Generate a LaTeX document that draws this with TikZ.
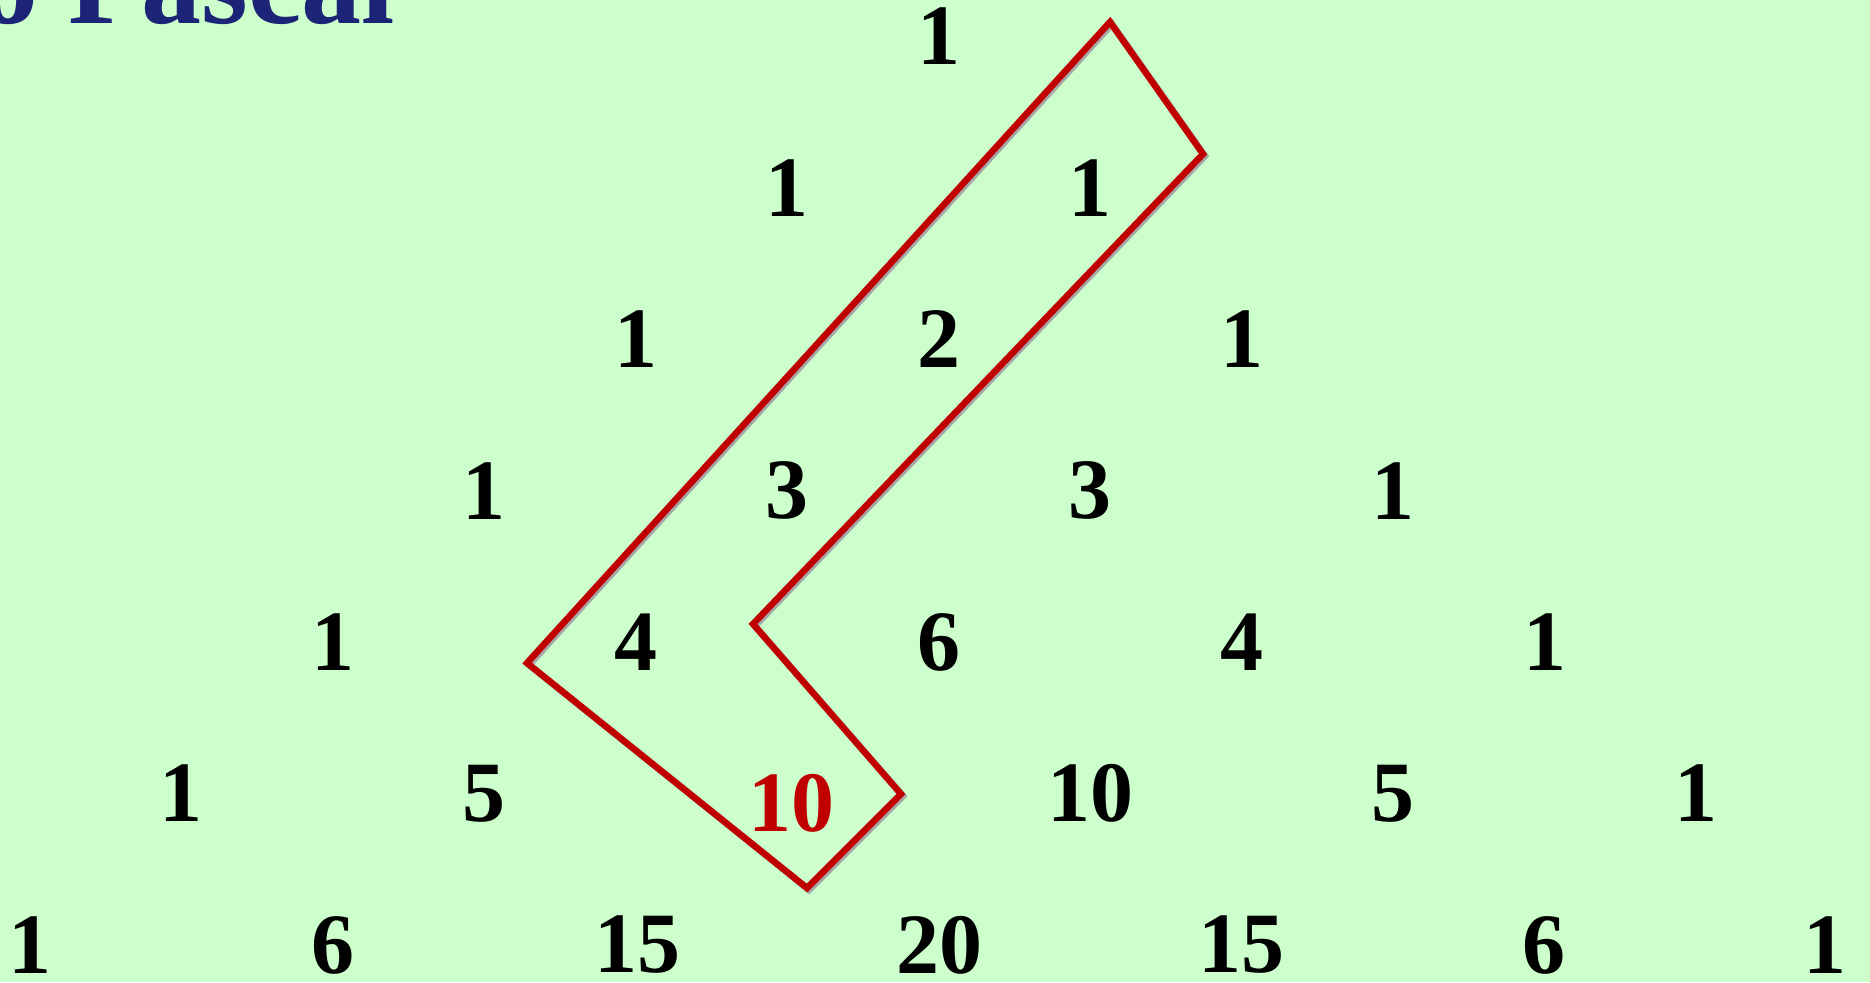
\documentclass[tikz,border=0pt]{standalone}
\usepackage{fontspec}
\setmainfont{Liberation Serif}
\definecolor{bg}{RGB}{204,255,204}
\definecolor{pred}{RGB}{192,0,0}
\definecolor{navy}{RGB}{28,36,120}
\begin{document}
\begin{tikzpicture}[x=1pt,y=-1pt,
  num/.style={font=\fontsize{86}{86}\selectfont\bfseries, inner sep=0pt, text=black},
  rednum/.style={num, text=pred},
  loop/.style={draw=pred, line width=6.5pt, line join=miter,
    preaction={draw=black!35, line width=6.5pt, transform canvas={shift={(2pt,-2pt)}}}}]
\fill[bg] (0,0) rectangle (1870,982);
\useasboundingbox (0,0) rectangle (1870,982);
\clip (0,0) rectangle (1870,982);
% title fragment
\node[anchor=base west, font=\fontsize{120}{120}\selectfont\bfseries, text=navy, inner sep=0pt] (title) at (-22,24) {o Pascal};
% rows 0..5
\node[num] (n00) at (938.6,36.5) {1};
\node[num] (n10) at (787.1,187.9) {1};
\node[num] (n11) at (1090.1,187.9) {1};
\node[num] (n20) at (635.6,339.3) {1};
\node[num] (n21) at (938.6,339.3) {2};
\node[num] (n22) at (1241.6,339.3) {1};
\node[num] (n30) at (484.1,490.7) {1};
\node[num] (n31) at (787.1,490.7) {3};
\node[num] (n32) at (1090.1,490.7) {3};
\node[num] (n33) at (1393.1,490.7) {1};
\node[num] (n40) at (332.6,642.1) {1};
\node[num] (n41) at (635.6,642.1) {4};
\node[num] (n42) at (938.6,642.1) {6};
\node[num] (n43) at (1241.6,642.1) {4};
\node[num] (n44) at (1544.6,642.1) {1};
\node[num] (n50) at (181.1,793.5) {1};
\node[num] (n51) at (484.1,793.5) {5};
\node[rednum] (n52) at (791,803.5) {10};
\node[num] (n53) at (1090.1,793.5) {10};
\node[num] (n54) at (1393.1,793.5) {5};
\node[num] (n55) at (1696.1,793.5) {1};
% row 6
\node[num] (n60) at (30,945) {1};
\node[num] (n61) at (333,945) {6};
\node[num] (n62) at (637,945) {15};
\node[num] (n63) at (939,945) {20};
\node[num] (n64) at (1241,945) {15};
\node[num] (n65) at (1544,945) {6};
\node[num] (n66) at (1825,945) {1};
% red outline
\coordinate (pA) at (1110,22);
\coordinate (pB) at (1203,154);
\coordinate (pC) at (753,624);
\coordinate (pD) at (901,794);
\coordinate (pE) at (807,888);
\coordinate (pF) at (527,663);
\draw[loop] (pA) -- (pB) -- (pC) -- (pD) -- (pE) -- (pF) -- cycle;
\end{tikzpicture}
\end{document}
